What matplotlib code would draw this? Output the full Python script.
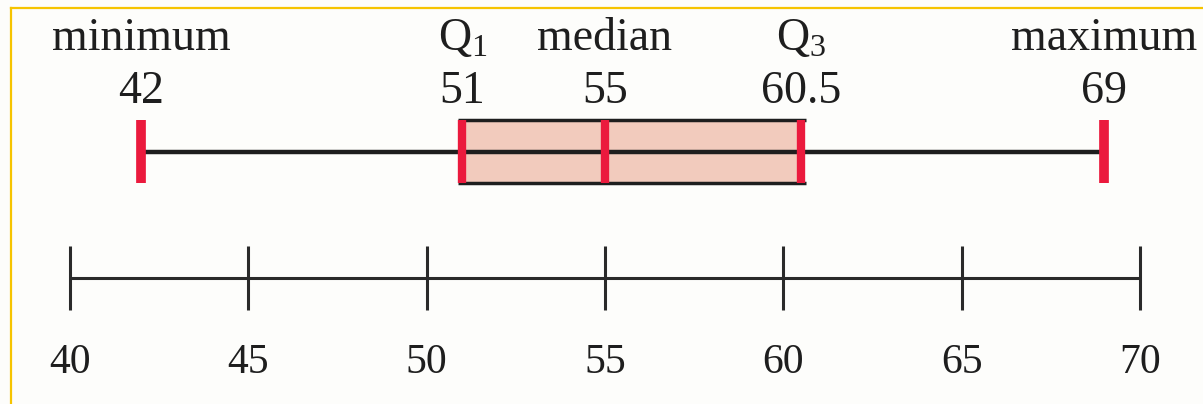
import matplotlib
matplotlib.use("Agg")
import matplotlib.pyplot as plt
from matplotlib.patches import Rectangle

# Five-number summary
stat_names = ["minimum", "Q$_{1}$", "median", "Q$_{3}$", "maximum"]
stat_values = [42, 51, 55, 60.5, 69]
stat_labels = ["42", "51", "55", "60.5", "69"]

# Number line
axis_ticks = [40, 45, 50, 55, 60, 65, 70]
axis_labels = ["40", "45", "50", "55", "60", "65", "70"]

plt.rcParams["font.family"] = ["Liberation Serif", "DejaVu Serif"]
plt.rcParams["mathtext.fontset"] = "custom"
plt.rcParams["mathtext.rm"] = "Liberation Serif"
plt.rcParams["mathtext.it"] = "Liberation Serif"

W, H = 1203, 404
fig = plt.figure(figsize=(W / 100, H / 100), dpi=100, facecolor="#fdfdfb")
ax = fig.add_axes([0, 0, 1, 1])
ax.set_facecolor("#fdfdfb")

# horizontal scale: 40 -> 70 px, 70 -> 1140 px
px_per_unit = (1140 - 70) / 30.0
ax.set_xlim(40 - 70 / px_per_unit, 40 + (W - 70) / px_per_unit)
ax.set_ylim(H, 0)
ax.axis("off")

red = "#eb1a3d"
dark = "#1e1e1e"
box_fill = "#f2cbbd"

vmin, q1, med, q3, vmax = stat_values
y_mid = 152
y_top, y_bot = 120, 183

# box
ax.add_patch(Rectangle((q1, y_top), q3 - q1, y_bot - y_top,
                       facecolor=box_fill, edgecolor="none", zorder=1))
half = 4.5 / px_per_unit
for yy in (y_top, y_bot):
    ax.plot([q1 - half, q3 + half], [yy, yy], color=dark, lw=2.5,
            solid_capstyle="butt", zorder=2)

# whisker line
ax.plot([vmin, vmax], [y_mid, y_mid], color=dark, lw=3.2,
        solid_capstyle="butt", zorder=2)

# red markers at each statistic (outer ones slightly heavier)
for i, v in enumerate(stat_values):
    lw = 7.0 if i in (0, len(stat_values) - 1) else 6.0
    ax.plot([v, v], [y_top, y_bot], color=red, lw=lw,
            solid_capstyle="butt", zorder=3)

# labels above
for name, v, lab in zip(stat_names, stat_values, stat_labels):
    ax.text(v, 50, name, ha="center", va="baseline", fontsize=33, color=dark)
    ax.text(v, 103, lab, ha="center", va="baseline", fontsize=33, color=dark)

# number line
ax.plot([axis_ticks[0], axis_ticks[-1]], [278, 278], color="#2a2a2a", lw=2.2,
        solid_capstyle="butt", zorder=2)
for t, lab in zip(axis_ticks, axis_labels):
    ax.plot([t, t], [246, 310], color="#2a2a2a", lw=2.2,
            solid_capstyle="butt", zorder=2)
    ax.text(t, 373, lab, ha="center", va="baseline", fontsize=30, color=dark)

# frame edges
frame_color = "#f6c400"
fig.add_artist(plt.Line2D([11 / W, 1], [1 - 8 / H, 1 - 8 / H],
                          transform=fig.transFigure, color=frame_color, lw=1.6))
fig.add_artist(plt.Line2D([11 / W, 11 / W], [0, 1 - 8 / H],
                          transform=fig.transFigure, color=frame_color, lw=1.6))

fig.savefig("out.png", dpi=100, facecolor=fig.get_facecolor())
